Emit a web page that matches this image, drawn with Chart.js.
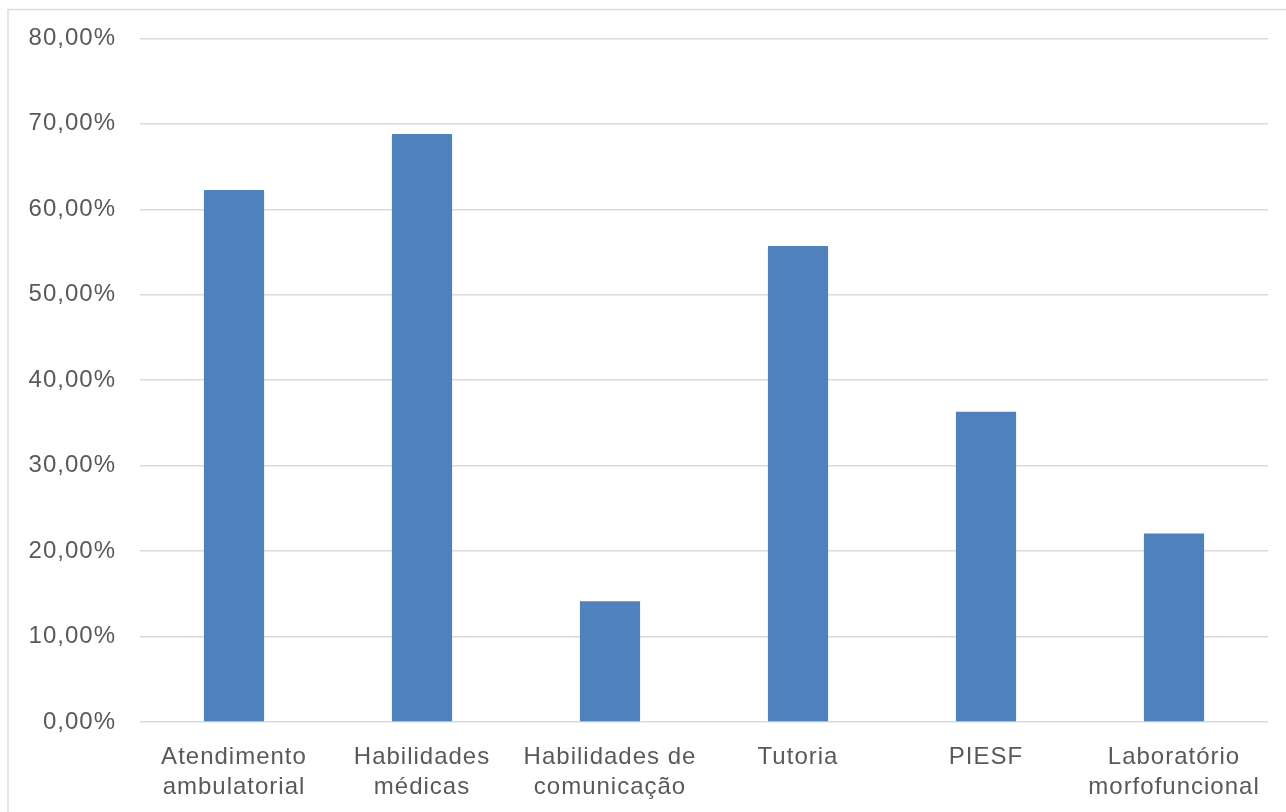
<!DOCTYPE html>
<html>
<head>
<meta charset="utf-8">
<script src="https://cdn.jsdelivr.net/npm/chart.js@4/dist/chart.umd.min.js"></script>
<style>
  html, body { margin: 0; padding: 0; background: #ffffff; }
  #wrap { width: 1286px; height: 812px; position: relative; }
</style>
</head>
<body>
<div id="wrap"><canvas id="c" width="1286" height="812"></canvas></div>
<script>
// Categories (two-line labels) and percentages per activity
const categories = [
  ['Atendimento', 'ambulatorial'],
  ['Habilidades', 'médicas'],
  ['Habilidades de', 'comunicação'],
  ['Tutoria'],
  ['PIESF'],
  ['Laboratório', 'morfofuncional']
];
const percentages = [62.25, 68.8, 14.13, 55.7, 36.3, 22.07];
const yTicks = { min: 0, max: 80, step: 10 };

const TEXT = '#595959';
const GRID = '#d9d9d9';
const BAR = '#4f81bd';

// Thin frame around the plot region, plus letter spacing for text
const framePlugin = {
  id: 'frame',
  beforeInit(chart) { chart.ctx.letterSpacing = '1px'; },
  beforeLayout(chart) { chart.ctx.letterSpacing = '1px'; },
  beforeDraw(chart) {
    const ctx = chart.ctx;
    ctx.letterSpacing = '1px';
    ctx.save();
    ctx.strokeStyle = GRID;
    ctx.lineWidth = 1.3;
    ctx.strokeRect(8, 9.5, 3000, 3000);
    ctx.restore();
  }
};

new Chart(document.getElementById('c'), {
  type: 'bar',
  data: {
    labels: categories,
    datasets: [{
      data: percentages,
      backgroundColor: BAR,
      borderWidth: 0,
      barPercentage: 0.64,
      categoryPercentage: 0.5
    }]
  },
  options: {
    responsive: false,
    animation: false,
    devicePixelRatio: 1,
    layout: { padding: { left: 0, top: 37, right: 18, bottom: 0 } },
    plugins: {
      legend: { display: false },
      tooltip: { enabled: false },
      title: { display: false }
    },
    scales: {
      x: {
        grid: { display: false, drawTicks: false },
        border: { display: false },
        ticks: {
          color: TEXT,
          font: { family: 'Liberation Sans, Arial, sans-serif', size: 24, lineHeight: 1.25 },
          padding: 20,
          maxRotation: 0,
          autoSkip: false
        },
        afterFit(scale) { scale.height = 90; }
      },
      y: {
        min: yTicks.min,
        max: yTicks.max,
        grid: { color: GRID, lineWidth: 1.5, drawTicks: false },
        border: { display: false },
        ticks: {
          stepSize: yTicks.step,
          color: TEXT,
          padding: 24,
          font: { family: 'Liberation Sans, Arial, sans-serif', size: 24 },
          callback: v => v.toFixed(2).replace('.', ',') + '%'
        },
        afterFit(scale) { scale.width = 140; }
      }
    }
  },
  plugins: [framePlugin]
});
</script>
</body>
</html>
